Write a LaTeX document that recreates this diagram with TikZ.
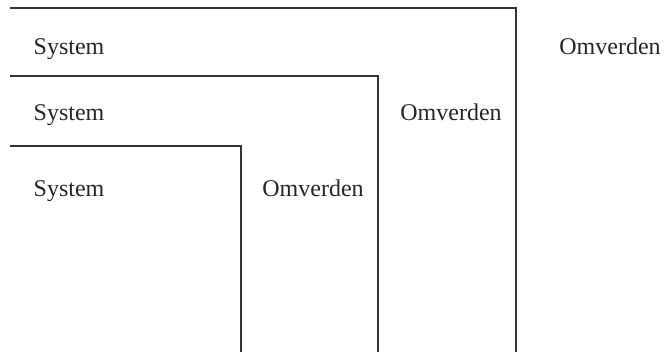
\documentclass[tikz,border=0pt]{standalone}
\usepackage{fontspec}
\setmainfont{Liberation Serif}
\begin{document}
\begin{tikzpicture}[x=1pt,y=-1pt,
  lbl/.style={inner sep=0pt,anchor=base,font=\fontsize{24}{28}\selectfont,text=black!85},
  wall/.style={line width=1.4pt,draw=black!80}]
\useasboundingbox (0,0) rectangle (668,352);
\draw[wall] (10,8) -- (516,8) -- (516,352);
\draw[wall] (10,76) -- (378,76) -- (378,352);
\draw[wall] (10,146) -- (241,146) -- (241,352);
\node[lbl] (s1) at (69,55) {System};
\node[lbl] (s2) at (69,121) {System};
\node[lbl] (s3) at (69,197) {System};
\node[lbl] (o1) at (610,55) {Omverden};
\node[lbl] (o2) at (451,121) {Omverden};
\node[lbl] (o3) at (313,197) {Omverden};
\end{tikzpicture}
\end{document}
